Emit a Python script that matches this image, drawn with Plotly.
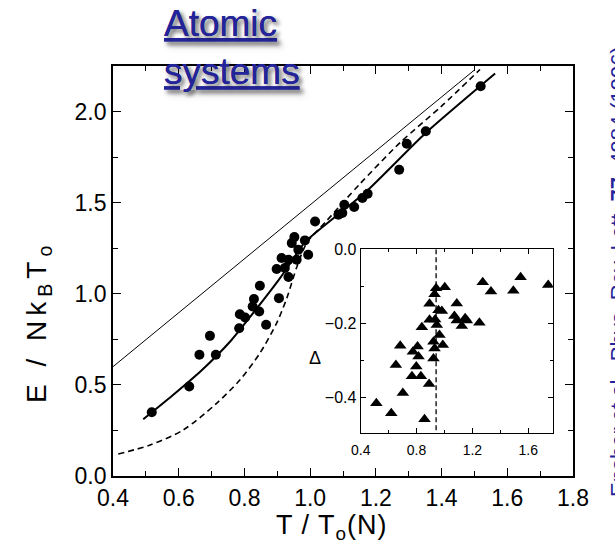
import plotly.graph_objects as go

# ---------------- data ----------------
# measured energy (circles)
data_T = [0.518, 0.632, 0.663, 0.695, 0.713, 0.784, 0.786, 0.802, 0.825, 0.829,
          0.845, 0.847, 0.866, 0.898, 0.905, 0.913, 0.923, 0.934, 0.934, 0.944,
          0.952, 0.959, 0.964, 0.984, 0.994, 1.015, 1.086, 1.098, 1.104, 1.134,
          1.159, 1.175, 1.271, 1.294, 1.352, 1.519]
data_E = [0.350, 0.491, 0.665, 0.769, 0.665, 0.811, 0.888, 0.870, 0.930, 0.971,
          0.903, 1.044, 0.830, 1.136, 0.976, 1.196, 1.141, 1.092, 1.187, 1.278,
          1.311, 1.187, 1.242, 1.293, 1.214, 1.397, 1.434, 1.443, 1.489, 1.476,
          1.526, 1.549, 1.681, 1.823, 1.892, 2.139]

# classical (thin line)
classical_T = [0.40, 1.50]
classical_E = [0.60, 2.228]

# ideal Bose gas (dashed)
ideal_T = [0.416, 0.513, 0.614, 0.716, 0.786, 0.847, 0.898, 0.929, 0.960, 0.990,
           1.050, 1.150, 1.273, 1.400, 1.517]
ideal_E = [0.121, 0.170, 0.253, 0.400, 0.527, 0.674, 0.839, 0.976, 1.150, 1.280,
           1.400, 1.600, 1.828, 2.030, 2.231]

# fit to data (solid)
fit_T = [0.492, 0.580, 0.670, 0.760, 0.840, 0.910, 0.950, 0.985, 1.170, 1.350, 1.563]
fit_E = [0.311, 0.440, 0.580, 0.745, 0.925, 1.090, 1.195, 1.285, 1.560, 1.880, 2.209]

# inset: Delta (triangles)
inset_T = [0.512, 0.619, 0.857, 0.702, 0.652, 0.683, 0.774, 0.807, 0.814, 0.798,
           0.767, 0.831, 0.890, 0.838, 0.893, 0.893, 0.929, 0.940, 1.002, 0.933,
           0.957, 0.981, 0.945, 0.964, 0.921, 0.929, 0.988, 0.921, 1.088, 1.071,
           1.088, 1.124, 1.148, 1.160, 1.250, 1.274, 1.333, 1.493, 1.545, 1.743]
inset_D = [-0.415, -0.442, -0.458, -0.387, -0.312, -0.260, -0.276, -0.262, -0.289, -0.316,
           -0.342, -0.342, -0.363, -0.210, -0.190, -0.147, -0.121, -0.105, -0.102, -0.189,
           -0.164, -0.166, -0.204, -0.231, -0.249, -0.267, -0.258, -0.294, -0.146, -0.180,
           -0.192, -0.207, -0.186, -0.192, -0.198, -0.089, -0.114, -0.112, -0.075, -0.096]
Tc_line_T = [0.94, 0.94]
Tc_line_D = [0.0, -0.49]

x_ticks = [0.4, 0.6, 0.8, 1.0, 1.2, 1.4, 1.6, 1.8]
y_ticks = [0.0, 0.5, 1.0, 1.5, 2.0]
inset_x_ticks = [0.4, 0.8, 1.2, 1.6]
inset_y_ticks = [0.0, -0.2, -0.4]

# ---------------- layout geometry ----------------
W, H = 615, 555
L, R, T, B = 113, 573, 66, 476
FONT = "Liberation Sans, Arial, sans-serif"
BLUE = "#24249a"


def px(xp):
    return (xp - L) / (R - L)


def py(yp):
    return (B - yp) / (B - T)


fig = go.Figure()

fig.add_trace(go.Scatter(x=classical_T, y=classical_E, mode="lines",
                         line=dict(color="black", width=1), showlegend=False))
fig.add_trace(go.Scatter(x=ideal_T, y=ideal_E, mode="lines", line_shape="spline",
                         line=dict(color="black", width=1.6, dash="6px,4px", smoothing=0.8),
                         showlegend=False))
fig.add_trace(go.Scatter(x=fit_T, y=fit_E, mode="lines", line_shape="spline",
                         line=dict(color="black", width=2, smoothing=0.6), showlegend=False))
fig.add_trace(go.Scatter(x=data_T, y=data_E, mode="markers",
                         marker=dict(color="black", size=10, symbol="circle"),
                         showlegend=False))

# inset
fig.add_trace(go.Scatter(x=Tc_line_T, y=Tc_line_D, mode="lines", xaxis="x2", yaxis="y2",
                         line=dict(color="black", width=1.3, dash="5px,3px"),
                         showlegend=False))
fig.add_trace(go.Scatter(x=inset_T, y=inset_D, mode="markers", xaxis="x2", yaxis="y2",
                         marker=dict(color="black", size=11, symbol="triangle-up"),
                         showlegend=False))

axis_common = dict(showgrid=False, zeroline=False, showline=True, linecolor="black",
                   mirror="ticks", ticks="inside", tickcolor="black",
                   tickfont=dict(family=FONT, size=23, color="black"))

fig.update_layout(
    width=W, height=H,
    margin=dict(l=L, r=W - R, t=T, b=H - B, pad=0),
    paper_bgcolor="white", plot_bgcolor="white",
    font=dict(family=FONT, color="black"),
    xaxis=dict(**axis_common, range=[0.4, 1.8], tickvals=x_ticks, tickformat=".1f",
               linewidth=1.8, ticklen=8, tickwidth=1.4,
               minor=dict(dtick=0.1, tick0=0.4, ticks="inside", ticklen=5,
                          tickcolor="black", tickwidth=1, showgrid=False),
               domain=[0, 1]),
    yaxis=dict(**axis_common, range=[0, 2.25], tickvals=y_ticks, tickformat=".1f",
               linewidth=1.8, ticklen=8, tickwidth=1.4,
               minor=dict(dtick=0.25, tick0=0, ticks="inside", ticklen=5,
                          tickcolor="black", tickwidth=1, showgrid=False),
               domain=[0, 1]),
    xaxis2=dict(showgrid=False, zeroline=False, showline=True, linecolor="black",
                mirror="ticks", ticks="inside", tickcolor="black", linewidth=1.2,
                ticklen=5, tickwidth=1, anchor="y2", ticklabelstandoff=4,
                range=[0.4, 1.775], tickvals=inset_x_ticks, tickformat=".1f",
                tickfont=dict(family=FONT, size=14, color="black"),
                minor=dict(dtick=0.2, tick0=0.4, ticks="inside", ticklen=3,
                           tickcolor="black", showgrid=False),
                domain=[px(360.7), px(552.7)]),
    yaxis2=dict(showgrid=False, zeroline=False, showline=True, linecolor="black",
                mirror="ticks", ticks="inside", tickcolor="black", linewidth=1.2,
                ticklen=5, tickwidth=1, anchor="x2",
                range=[-0.495, 0.0], tickvals=inset_y_ticks, tickformat=".1f",
                tickfont=dict(family=FONT, size=16, color="black"),
                minor=dict(dtick=0.1, tick0=0, ticks="inside", ticklen=3,
                           tickcolor="black", showgrid=False),
                domain=[py(433), py(249.3)]),
)

ann = []
# axis titles
ann.append(dict(text='<span style="letter-spacing:5px">E / Nk<sub>B</sub>T<sub>o</sub></span>',
                xref="paper", yref="paper",
                x=px(38), y=py(322), textangle=-90, showarrow=False,
                font=dict(family=FONT, size=28, color="black"),
                xanchor="center", yanchor="middle"))
ann.append(dict(text='<span style="letter-spacing:1px">T / T<sub>o</sub>(N)</span>',
                xref="paper", yref="paper",
                x=px(332), y=py(527), showarrow=False,
                font=dict(family=FONT, size=27, color="black"),
                xanchor="center", yanchor="middle"))
# inset Delta label
ann.append(dict(text="Δ", xref="paper", yref="paper", x=px(315), y=py(358),
                showarrow=False, font=dict(family=FONT, size=18, color="black"),
                xanchor="center", yanchor="middle"))
# slide title
ann.append(dict(text="Atomic<br>systems", xref="paper", yref="paper",
                x=px(162), y=py(1), showarrow=False, align="left",
                xanchor="left", yanchor="top",
                font=dict(family=FONT, size=37, color=BLUE, lineposition="under",
                          shadow="3px 3px 4px rgba(0,0,0,0.35)")))
# citation (clipped at the right edge)
ann.append(dict(text="Ensher et al., Phys. Rev. Lett. <b>77</b>, 4984 (1996)",
                xref="paper", yref="paper", x=px(604), y=py(44),
                textangle=-90, showarrow=False, xanchor="left", yanchor="top",
                font=dict(family=FONT, size=22, color=BLUE)))
fig.update_layout(annotations=ann)

fig.write_html("out.html")
